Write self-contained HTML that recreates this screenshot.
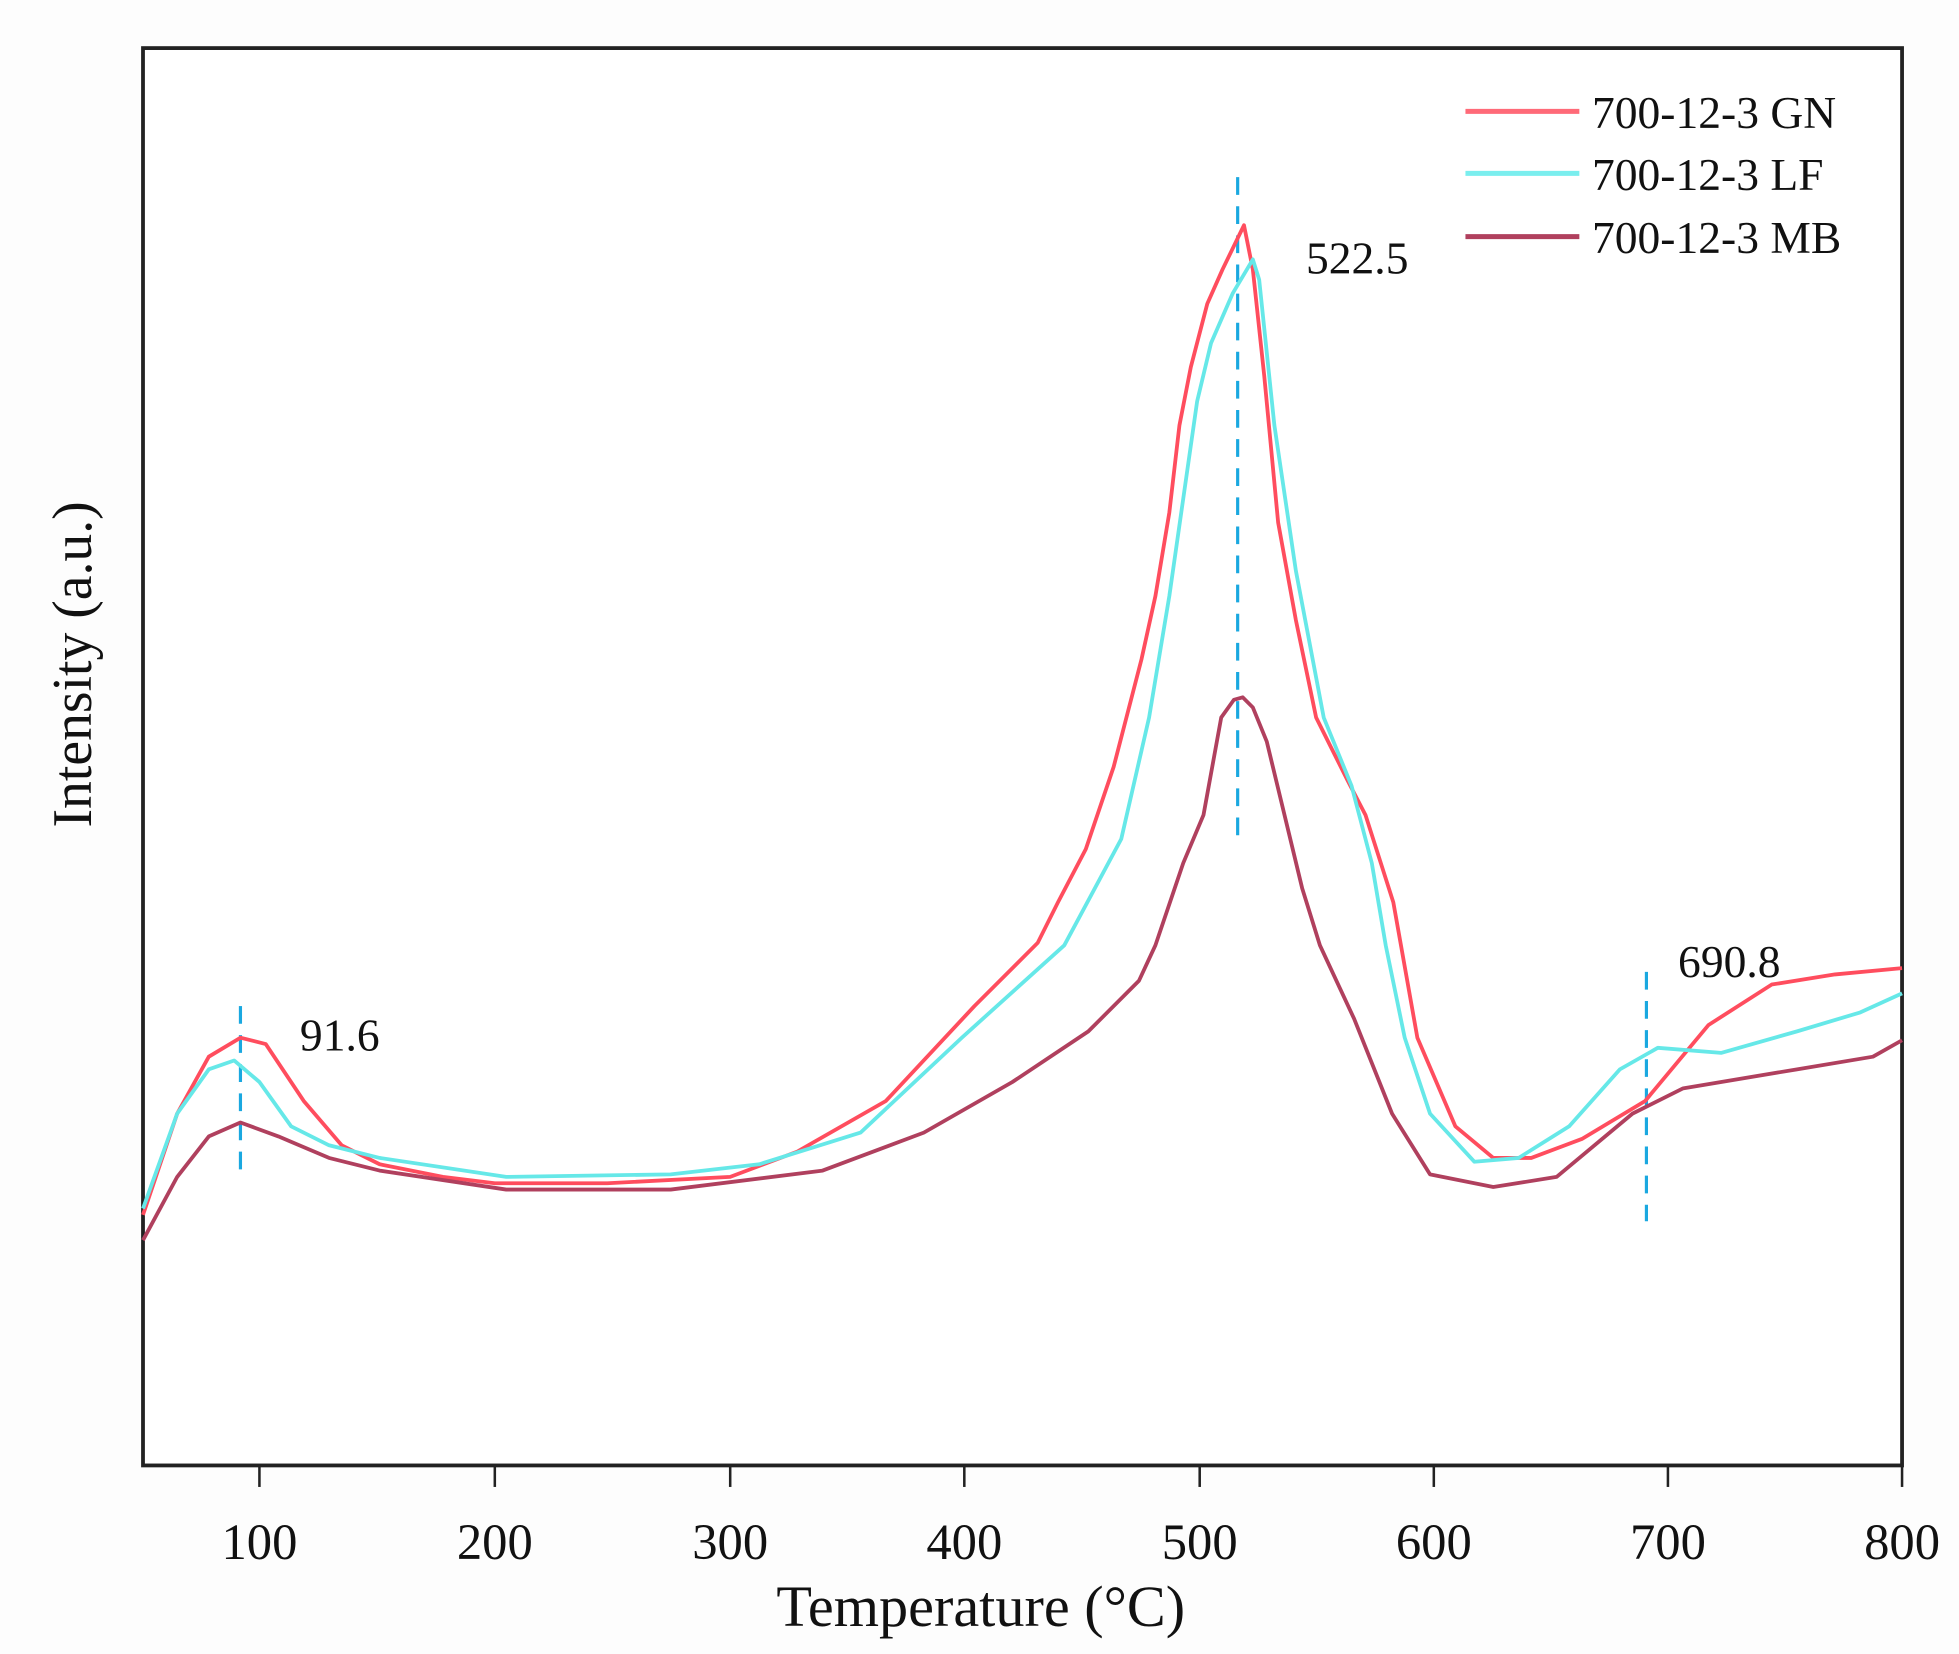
<!DOCTYPE html>
<html><head><meta charset="utf-8"><style>
html,body{margin:0;padding:0;background:#fff;}
svg{display:block;}
text{font-family:"Liberation Serif",serif;fill:#111;}
</style></head><body>
<svg width="1959" height="1654" viewBox="0 0 1548 1307" preserveAspectRatio="none" xmlns="http://www.w3.org/2000/svg">
<rect width="1548" height="1307" fill="#fdfdfd"/>
<rect x="113" y="38" width="1390" height="1120" fill="#fff" stroke="#222" stroke-width="3"/>
<g stroke="#222" stroke-width="2">
<line x1="205" y1="1158" x2="205" y2="1175"/><line x1="391" y1="1158" x2="391" y2="1175"/>
<line x1="577" y1="1158" x2="577" y2="1175"/><line x1="762" y1="1158" x2="762" y2="1175"/>
<line x1="948" y1="1158" x2="948" y2="1175"/><line x1="1133" y1="1158" x2="1133" y2="1175"/>
<line x1="1318" y1="1158" x2="1318" y2="1175"/><line x1="1503" y1="1158" x2="1503" y2="1175"/>
</g>
<g font-size="40" text-anchor="middle">
<text x="205" y="1232">100</text><text x="391" y="1232">200</text><text x="577" y="1232">300</text>
<text x="762" y="1232">400</text><text x="948" y="1232">500</text><text x="1133" y="1232">600</text>
<text x="1318" y="1232">700</text><text x="1503" y="1232">800</text>
</g>
<text x="775" y="1285" font-size="46" text-anchor="middle">Temperature (°C)</text>
<text transform="translate(72,525) rotate(-90)" font-size="44" text-anchor="middle">Intensity (a.u.)</text>
<g stroke="#1aa8e0" stroke-width="2.5" stroke-dasharray="14,9" fill="none">
<line x1="978" y1="140" x2="978" y2="665"/>
<line x1="190" y1="795" x2="190" y2="930"/>
<line x1="1301" y1="768" x2="1301" y2="965"/>
</g>
<g fill="none" stroke-width="3" stroke-linejoin="round">
<polyline stroke="#ff4d5e" points="113,960 140,880 165,835 190,820 210,825 240,870 270,905 300,920 350,930 391,935 480,935 577,930 630,910 700,870 770,795 820,745 836,713 858,671 880,606 902,521 913,471 924,405 932,336 941,290 954,240 966,213 983,178 990,213 999,297 1010,413 1024,490 1040,567 1065,617 1079,644 1101,713 1120,820 1150,890 1180,915 1210,915 1250,900 1300,870 1350,810 1400,778 1450,770 1503,765"/>
<polyline stroke="#66e8e8" points="113,955 140,880 165,845 185,838 205,855 230,890 260,905 300,915 400,930 530,928 600,920 680,895 760,820 841,747 886,663 908,567 924,471 935,394 946,317 957,271 974,232 990,205 995,221 1007,336 1024,451 1046,567 1068,621 1084,682 1095,747 1110,820 1130,880 1165,918 1200,915 1240,890 1280,845 1310,828 1360,832 1420,815 1470,800 1503,785"/>
<polyline stroke="#b0405e" points="113,980 140,930 165,898 190,887 220,898 260,915 300,925 400,940 530,940 650,925 730,895 800,855 860,815 900,775 913,747 935,682 951,644 965,567 975,553 982,551 990,559 1001,586 1015,644 1029,702 1043,747 1070,805 1100,880 1130,928 1180,938 1230,930 1290,880 1330,860 1420,845 1480,835 1503,822"/>
</g>
<g stroke-width="4">
<line x1="1158" y1="88" x2="1248" y2="88" stroke="#ff6a78"/>
<line x1="1158" y1="137" x2="1248" y2="137" stroke="#7aeeee"/>
<line x1="1158" y1="187" x2="1248" y2="187" stroke="#b0405e"/>
</g>
<g font-size="36">
<text x="1258" y="101">700-12-3 GN</text>
<text x="1258" y="150">700-12-3 LF</text>
<text x="1258" y="200">700-12-3 MB</text>
<text x="1032" y="216">522.5</text>
<text x="237" y="830">91.6</text>
<text x="1326" y="772">690.8</text>
</g>
</svg>
</body></html>
